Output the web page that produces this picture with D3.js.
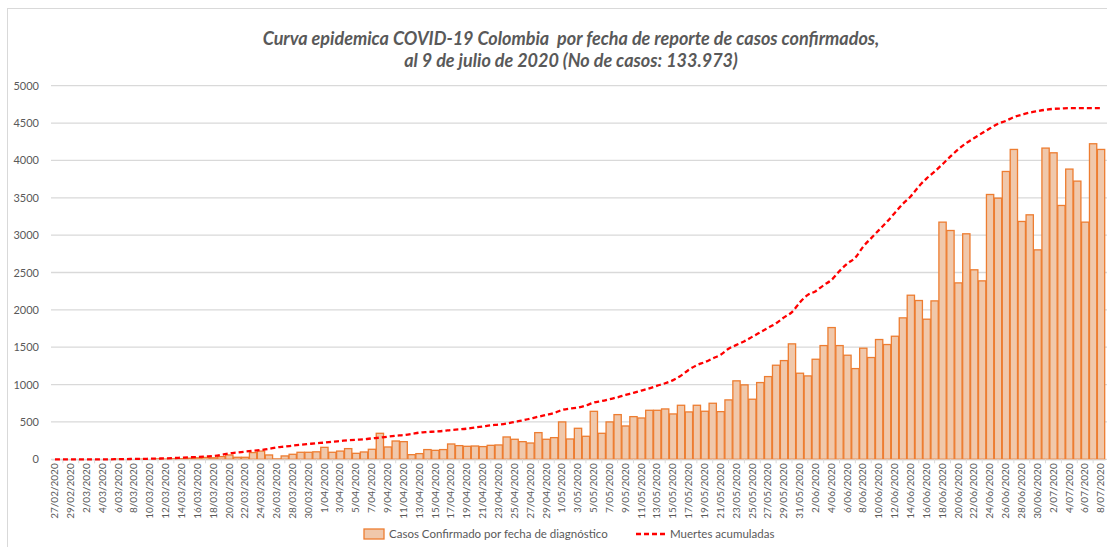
<!DOCTYPE html>
<html><head><meta charset="utf-8">
<script src="https://cdn.jsdelivr.net/npm/d3@7"></script>
<style>body{margin:0;background:#fff;} svg{display:block;}</style>
</head><body>
<svg id="c" width="1107" height="547"></svg>
<script>
const titleLines = ["Curva epidemica COVID-19 Colombia  por fecha de reporte de casos confirmados,", "al 9 de julio de 2020 (No de casos: 133.973)"];
const startDate = "27/02/2020";
const dayCount = 133;
const cases = [
0,0,0,0,0,0,0,0,1,0,0,1,0,6,3,7,8,15,20,25,20,36,
58,27,27,90,110,58,5,45,67,94,94,100,160,94,110,143,80,98,
134,348,165,245,236,62,76,130,120,130,205,183,174,178,170,187,192,299,268,236,218,357,268,290,
500,272,415,308,642,348,500,598,446,571,553,656,656,674,607,723,634,723,643,750,638,795,1050,996,804,1027,
1107,1259,1321,1545,1152,1116,1339,1522,1763,1522,1393,1214,1487,1362,1603,1536,1647,1893,2196,2125,1875,2120,
3174,3062,2361,3018,2536,2388,3544,3495,3852,4147,3183,3272,2803,4165,4102,3397,3884,3723,3174,4223,4147];
const deaths = [
0,0,0,0,0,0,0,0,
3,3,5,5,8,10,
13,17,22,27,31,38,45,60,
80,90,103,113,125,140,160,170,
183,195,205,215,223,235,245,255,
262,268,280,290,303,315,325,340,
357,365,372,380,392,400,410,425,
440,455,465,480,500,520,545,570,
594,620,661,680,692,720,759,780,
805,830,861,890,920,950,985,1018,
1060,1120,1200,1260,1300,1350,1400,1480,
1531,1580,1640,1700,1760,1820,1900,1970,
2100,2200,2250,2330,2402,2520,2620,2700,
2848,2960,3071,3180,3300,3420,3520,3652,
3760,3850,3950,4053,4150,4232,4300,4366,
4430,4490,4530,4580,4611,4640,4660,4678,
4690,4695,4700,4700,4700,4700,4700];
const yTicks = [0,500,1000,1500,2000,2500,3000,3500,4000,4500,5000];
const legendLabels = ["Casos Confirmado por fecha de diagnóstico", "Muertes acumuladas"];

const parse = d3.timeParse("%d/%m/%Y");
const fmt = d => `${d.getDate()}/${String(d.getMonth()+1).padStart(2,"0")}/${d.getFullYear()}`;
const d0 = parse(startDate);
const dates = d3.range(dayCount).map(i => fmt(d3.timeDay.offset(d0, i)));

const svg = d3.select("#c");
const font = "Lato, 'Liberation Sans', Arial, sans-serif";
const grey = "#595959";
const barFill = "#F0C8AB";

// chart border
svg.append("rect").attr("x",7.5).attr("y",8.5).attr("width",1110).attr("height",560)
  .attr("fill","none").attr("stroke","#d9d9d9");

const x = d3.scaleBand().domain(dates).range([51,1105]).paddingInner(0.08).paddingOuter(0.04);
const y = d3.scaleLinear().domain([0,5000]).range([459.3,85.7]);

// grid
svg.append("g").selectAll("line").data(yTicks).join("line")
  .attr("x1",51).attr("x2",1107).attr("y1",d=>y(d)).attr("y2",d=>y(d))
  .attr("stroke","#d9d9d9").attr("stroke-width",1.3);

// y axis labels
const yAxis = svg.append("g").attr("transform","translate(39,0)")
  .call(d3.axisLeft(y).tickValues(yTicks).tickFormat(d3.format("d")).tickSize(0).tickPadding(0));
yAxis.select(".domain").remove();
yAxis.selectAll("text").attr("fill",grey).style("font-family",font).style("font-size","11px");

// bars
svg.append("g").selectAll("rect").data(cases).join("rect")
  .attr("x",(d,i)=>x(dates[i])).attr("width",x.bandwidth())
  .attr("y",d=>y(d)).attr("height",d=>y(0)-y(d))
  .attr("fill",barFill).attr("stroke","#ED7D31").attr("stroke-width",1.3);

// x axis
const xAxis = svg.append("g").attr("transform",`translate(0,${y(0)})`)
  .call(d3.axisBottom(x).tickValues(dates.filter((d,i)=>i%2===0)).tickSize(0).tickPadding(4));
xAxis.select(".domain").attr("stroke","#d9d9d9").attr("stroke-width",1.3);
xAxis.selectAll("text").attr("fill",grey).style("font-family",font).style("font-size","10px")
  .attr("transform","rotate(-90)").attr("text-anchor","end").attr("dx","-4").attr("dy","0.32em").attr("y",0).attr("x",0);
// small ticks between labelled categories
svg.append("g").selectAll("line").data(dates.filter((d,i)=>i%2===1)).join("line")
  .attr("x1",d=>x(d)+x.bandwidth()/2).attr("x2",d=>x(d)+x.bandwidth()/2)
  .attr("y1",y(0)).attr("y2",y(0)+4).attr("stroke","#d9d9d9");

// deaths line
const line = d3.line().x((d,i)=>x(dates[i])+x.bandwidth()/2).y(d=>y(d)).curve(d3.curveMonotoneX);
svg.append("path").datum(deaths).attr("d",line).attr("fill","none")
  .attr("stroke","#FF0000").attr("stroke-width",2.3).attr("stroke-dasharray","5,3");

// title
svg.append("g").selectAll("text").data(titleLines).join("text")
  .attr("x",571).attr("y",(d,i)=>45+i*22).attr("text-anchor","middle")
  .attr("fill",grey).style("font-family",font).style("font-size","18px")
  .style("font-weight","bold").style("font-style","italic").style("white-space","pre").text(d=>d);

// legend
const lg = svg.append("g");
lg.append("rect").attr("x",364).attr("y",529).attr("width",20).attr("height",10)
  .attr("fill",barFill).attr("stroke","#ED7D31").attr("stroke-width",1.3);
lg.append("text").attr("x",389).attr("y",538).text(legendLabels[0])
  .attr("fill",grey).style("font-family",font).style("font-size","11.5px");
lg.append("line").attr("x1",636).attr("x2",666).attr("y1",534).attr("y2",534)
  .attr("stroke","#FF0000").attr("stroke-width",2.3).attr("stroke-dasharray","5,3");
lg.append("text").attr("x",670).attr("y",538).text(legendLabels[1])
  .attr("fill",grey).style("font-family",font).style("font-size","11.5px");
</script>
</body></html>
